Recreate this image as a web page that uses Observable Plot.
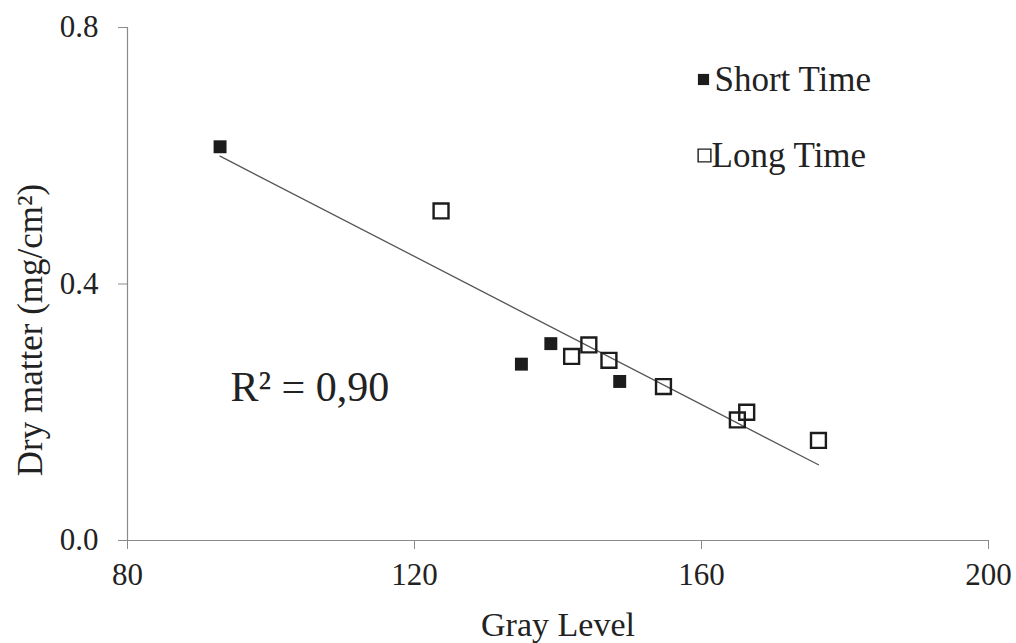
<!DOCTYPE html>
<html>
<head>
<meta charset="utf-8">
<script src="https://cdn.jsdelivr.net/npm/d3@7"></script>
<script src="https://cdn.jsdelivr.net/npm/@observablehq/plot@0.6"></script>
<style>
  html, body { margin: 0; padding: 0; background: #fff; }
  svg { display: block; }
  svg text { font-family: "Liberation Serif", "Times New Roman", serif; }
</style>
</head>
<body>
<div id="chart"></div>
<script>
// Data
const shortGray = [92.9, 134.9, 139.0, 148.6];
const shortDry  = [0.614, 0.275, 0.307, 0.248];
const longGray  = [123.7, 141.9, 144.3, 147.1, 154.7, 165.0, 166.3, 176.3];
const longDry   = [0.514, 0.287, 0.305, 0.281, 0.240, 0.188, 0.200, 0.156];
const xTicks = [80, 120, 160, 200];
const yTicks = [0.0, 0.4, 0.8];
const xDomain = [80, 200];
const yDomain = [0, 0.8];
const seriesNames = ["Short Time", "Long Time"];
const r2Label = "R² = 0,90";
const xLabel = "Gray Level";
const yLabel = "Dry matter (mg/cm²)";

const shortPts = shortGray.map((g, i) => ({gray: g, dry: shortDry[i], series: seriesNames[0]}));
const longPts = longGray.map((g, i) => ({gray: g, dry: longDry[i], series: seriesNames[1]}));
const allPts = shortPts.concat(longPts);

const axisColor = "#8a8a8a";
const ink = "#1c1c1c";
const textInk = "#222";
const font = "'Liberation Serif', 'Times New Roman', serif";

const chart = Plot.plot({
  width: 1016,
  height: 643,
  marginLeft: 127,
  marginRight: 28,
  marginTop: 27,
  marginBottom: 103,
  style: {fontFamily: font, color: textInk, background: "#fff"},
  x: {domain: xDomain, ticks: xTicks},
  y: {domain: yDomain, ticks: yTicks},
  marks: [
    Plot.ruleX([xDomain[0]], {stroke: axisColor, strokeWidth: 1.2}),
    Plot.ruleY([yDomain[0]], {stroke: axisColor, strokeWidth: 1.2}),
    Plot.axisX({
      ticks: xTicks, tickSize: 9, tickPadding: 13, fontSize: 31, fontFamily: font, fontVariant: "normal",
      stroke: axisColor, color: textInk, label: null
    }),
    Plot.axisY({
      ticks: yTicks, tickSize: 9, tickPadding: 20, fontSize: 31, fontFamily: font, fontVariant: "normal",
      tickFormat: d3.format(".1f"),
      stroke: axisColor, color: textInk, label: null
    }),
    Plot.text([xLabel], {frameAnchor: "bottom", dy: 85, text: d => d, lineAnchor: "middle", textAnchor: "middle", fontSize: 34, fill: textInk}),
    Plot.text([yLabel], {frameAnchor: "left", dx: -97, dy: 46, rotate: -90, text: d => d, lineAnchor: "middle", textAnchor: "middle", fontSize: 35, fill: textInk}),
    Plot.linearRegressionY(allPts, {x: "gray", y: "dry", stroke: "#555", strokeWidth: 1.3, ci: 0}),
    Plot.dot(shortPts, {x: "gray", y: "dry", symbol: "square", fill: ink, r: 7.3}),
    Plot.dot(longPts, {x: "gray", y: "dry", symbol: "square", fill: "none", stroke: ink, strokeWidth: 2.4, r: 8.4}),
    // legend
    Plot.dot([seriesNames[0]], {frameAnchor: "top-left", dx: 576, dy: 52, symbol: "square", fill: ink, r: 6.3}),
    Plot.dot([seriesNames[1]], {frameAnchor: "top-left", dx: 577, dy: 128, symbol: "square", fill: "none", stroke: ink, strokeWidth: 1.4, r: 7.2}),
    Plot.text([seriesNames[0]], {frameAnchor: "top-left", dx: 587, dy: 52, text: d => d, lineAnchor: "middle", textAnchor: "start", fontSize: 35, fill: textInk}),
    Plot.text([seriesNames[1]], {frameAnchor: "top-left", dx: 584, dy: 128, text: d => d, lineAnchor: "middle", textAnchor: "start", fontSize: 35, fill: textInk}),
    // R² annotation
    Plot.text([r2Label], {frameAnchor: "top-left", dx: 103, dy: 360, text: d => d, lineAnchor: "middle", textAnchor: "start", fontSize: 42, fill: textInk})
  ]
});
document.getElementById("chart").appendChild(chart);
</script>
</body>
</html>
